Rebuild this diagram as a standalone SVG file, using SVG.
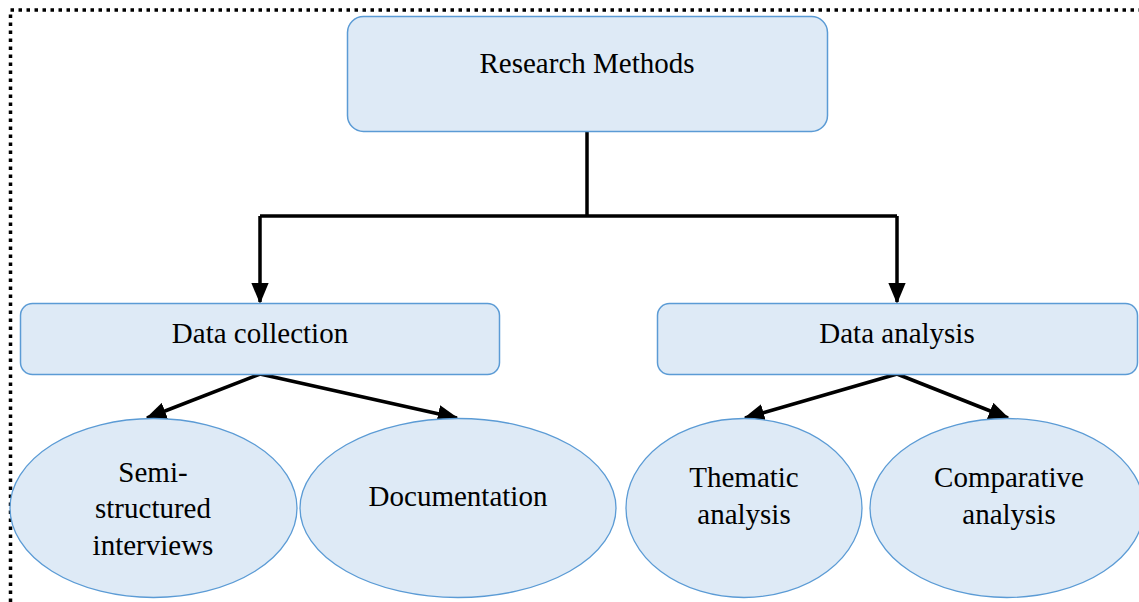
<svg xmlns="http://www.w3.org/2000/svg" width="1139" height="602" viewBox="0 0 1139 602">
<style>
.box{fill:#deeaf6;stroke:#5b9bd5;stroke-width:1.5}
.ell{fill:#deeaf6;stroke:#5b9bd5;stroke-width:1.3}
.t{font-family:"Liberation Serif","Times New Roman",serif;font-size:29px;fill:#000;text-anchor:middle}
.c{fill:none;stroke:#000;stroke-width:3.5}
</style>
<defs>
<marker id="ah" markerWidth="6" markerHeight="5" refX="5.5" refY="2.5" orient="auto" markerUnits="strokeWidth">
<path d="M0,0 L6,2.5 L0,5 Z" fill="#000"/>
</marker>
</defs>
<path d="M10.5,602 L10.5,10 L1139,10" fill="none" stroke="#000" stroke-width="3.5" stroke-dasharray="3.5 4.5"/>
<g id="connectors">
<path class="c" d="M587,131 L587,216"/>
<path class="c" d="M260,216 L897,216"/>
<path class="c" d="M260,216 L260,302" marker-end="url(#ah)"/>
<path class="c" d="M897,216 L897,302" marker-end="url(#ah)"/>
<path class="c" d="M260,374 L147,418" marker-end="url(#ah)"/>
<path class="c" d="M260,374 L457,418" marker-end="url(#ah)"/>
<path class="c" d="M897,374 L745,418" marker-end="url(#ah)"/>
<path class="c" d="M897,374 L1008,418" marker-end="url(#ah)"/>
</g>
<g id="research-methods">
<rect class="box" x="347.5" y="16.5" width="480" height="115" rx="16"/>
<text class="t" x="587" y="73">Research Methods</text>
</g>
<g id="data-collection">
<rect class="box" x="20.5" y="303.5" width="479" height="71" rx="12"/>
<text class="t" x="260" y="343">Data collection</text>
</g>
<g id="data-analysis">
<rect class="box" x="657.5" y="303.5" width="480" height="71" rx="12"/>
<text class="t" x="897" y="343">Data analysis</text>
</g>
<g id="semi-structured">
<ellipse class="ell" cx="153.5" cy="508" rx="143.5" ry="89.5"/>
<text class="t" x="153" y="482">Semi-</text>
<text class="t" x="153" y="518">structured</text>
<text class="t" x="153" y="555">interviews</text>
</g>
<g id="documentation">
<ellipse class="ell" cx="458" cy="508" rx="158" ry="89.5"/>
<text class="t" x="458" y="506">Documentation</text>
</g>
<g id="thematic">
<ellipse class="ell" cx="744" cy="508" rx="118" ry="89.5"/>
<text class="t" x="744" y="487">Thematic</text>
<text class="t" x="744" y="524">analysis</text>
</g>
<g id="comparative">
<ellipse class="ell" cx="1007" cy="508" rx="137" ry="89.5"/>
<text class="t" x="1009" y="487">Comparative</text>
<text class="t" x="1009" y="524">analysis</text>
</g>
</svg>
